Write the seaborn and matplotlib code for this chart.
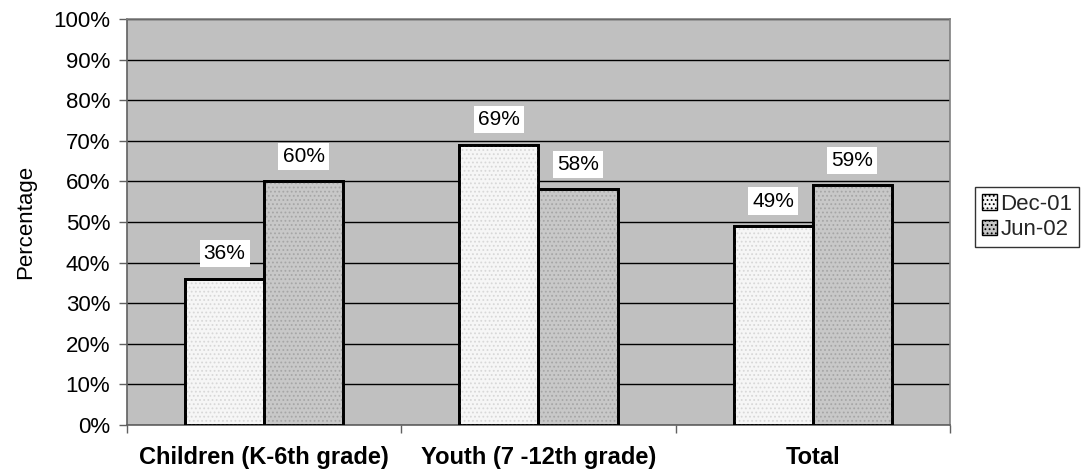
import matplotlib
matplotlib.use("Agg")
import matplotlib.pyplot as plt
from matplotlib.patches import Rectangle
from matplotlib.ticker import PercentFormatter, FixedLocator
import seaborn as sns
import pandas as pd

categories = ["Children (K-6th grade)", "Youth (7 -12th grade)", "Total"]
periods = ["Dec-01", "Jun-02"]
dec_01 = [36, 69, 49]
jun_02 = [60, 58, 59]

df = pd.DataFrame({
    "group": categories * 2,
    "period": [periods[0]] * 3 + [periods[1]] * 3,
    "pct": dec_01 + jun_02,
})

sns.set_theme(style="white")
plt.rcParams["font.family"] = ["Liberation Sans", "DejaVu Sans"]
plt.rcParams["hatch.linewidth"] = 0.8

fig = plt.figure(figsize=(10.86, 4.74), dpi=100)
ax = fig.add_axes([0.1169, 0.1034, 0.7579, 0.8566])
ax.set_facecolor("#C0C0C0")

fills = {"Dec-01": "#F6F6F6", "Jun-02": "#C8C8C8"}
dots = {"Dec-01": "#D8D8D8", "Jun-02": "#A6A6A6"}

sns.barplot(data=df, x="group", y="pct", hue="period", order=categories,
            hue_order=periods, palette=fills, width=0.576, gap=0,
            edgecolor="black", linewidth=2, ax=ax, zorder=3, legend=False)

# dotted texture on each bar plus value labels
for container, period in zip(ax.containers, periods):
    for bar in container:
        x, y = bar.get_x(), bar.get_y()
        w, h = bar.get_width(), bar.get_height()
        ax.add_patch(Rectangle((x, y), w, h, facecolor="none",
                               edgecolor=dots[period], hatch="....",
                               linewidth=0, zorder=3.5))
        ax.add_patch(Rectangle((x, y), w, h, facecolor="none",
                               edgecolor="black", linewidth=2, zorder=3.6))
        ax.annotate(f"{h:.0f}%", (x + w / 2, h), xytext=(0, 18),
                    textcoords="offset points", ha="center", va="center",
                    fontsize=15, color="black", zorder=5,
                    bbox=dict(boxstyle="square,pad=0.2", fc="white", ec="none"))

ax.set_ylim(0, 100)
ax.set_xlim(-0.5, 2.5)
ax.yaxis.set_major_locator(FixedLocator(range(0, 101, 10)))
ax.yaxis.set_major_formatter(PercentFormatter(decimals=0))
ax.grid(axis="y", color="black", linewidth=1, zorder=1)
ax.set_axisbelow(True)

ax.set_xticks(range(len(categories)))
ax.set_xticklabels(categories, fontsize=17, fontweight="bold")
ax.set_xticks([-0.5, 0.5, 1.5, 2.5], minor=True)
ax.tick_params(axis="x", which="major", length=0, pad=15, colors="black")
ax.tick_params(axis="x", which="minor", length=6, width=1, color="#606060",
               direction="out", bottom=True)
ax.tick_params(axis="y", length=6, width=1, color="#606060", direction="out",
               left=True, labelsize=16, labelcolor="black", pad=6)

for side, sp in ax.spines.items():
    sp.set_visible(True)
    sp.set_color("#808080")
    sp.set_linewidth(1.2)
ax.spines["left"].set_color("#606060")
ax.spines["bottom"].set_color("#606060")

ax.set_xlabel("")
ax.set_ylabel("Percentage", fontsize=16, color="black", labelpad=12)

handles = [Rectangle((0, 0), 1, 1, facecolor=fills[p], edgecolor="black",
                     hatch="....", linewidth=1) for p in periods]
leg = fig.legend(handles, periods, loc="center left",
                 bbox_to_anchor=(975 / 1086, (474 - 217) / 474),
                 fontsize=16, frameon=True, fancybox=False, shadow=False,
                 handlelength=0.7, handleheight=0.7, handletextpad=0.15,
                 borderpad=0.3, labelspacing=0.2, borderaxespad=0)
leg.get_frame().set_edgecolor("black")
leg.get_frame().set_linewidth(1)

fig.savefig("out.png", dpi=100, facecolor="white")
